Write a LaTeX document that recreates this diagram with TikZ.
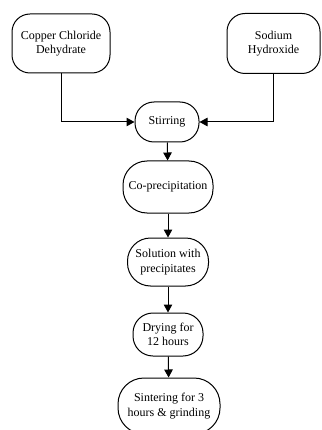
\documentclass[tikz,border=0pt]{standalone}
\usepackage{fontspec}
\setmainfont{Liberation Serif}
\usepackage{tikz}
\usetikzlibrary{arrows.meta}
\tikzset{
  procbox/.style={draw, line width=1pt, align=center, inner sep=1pt,
    font=\fontsize{12}{14.5}\selectfont},
  flowline/.style={line width=1pt, -{Triangle[length=8pt,width=8.5pt]}}
}
\newcommand{\procnode}[7]{\node[procbox, rounded corners=#6, minimum width=#4, minimum height=#5] (#1) at ( #2 , #3 ) {#7};}

\begin{document}
\begin{tikzpicture}[x=1pt, y=-1pt]
        \useasboundingbox (0,0) rectangle (321,430);
        \clip (0,0) rectangle (321,430);

        % raw materials
        \procnode{copper}{61}{43.5}{98pt}{59pt}{18pt}{Copper Chloride\\Dehydrate}
        \procnode{sodium}{273.5}{43.5}{93pt}{60pt}{18pt}{Sodium\\Hydroxide}

        % process steps
        \procnode{stir}{167}{122}{64pt}{40pt}{19pt}{Stirring}
        \procnode{coprec}{168}{187}{90pt}{52pt}{24pt}{Co-precipitation}
        \procnode{sol}{168}{262}{81pt}{48pt}{23pt}{Solution with\\precipitates}
        \procnode{dry}{168}{334.5}{70pt}{43pt}{20pt}{Drying for\\12 hours}
        \procnode{sinter}{169}{406}{102pt}{56pt}{26pt}{Sintering for 3\\hours \& grinding}

        \draw[flowline] (copper) |- (stir);
        \draw[flowline] (sodium) |- (stir);
        \draw[flowline] (stir) -- (coprec);
        \draw[flowline] (coprec) -- (sol);
        \draw[flowline] (sol) -- (dry);
        \draw[flowline] (dry) -- (sinter);
    \end{tikzpicture}
\end{document}
